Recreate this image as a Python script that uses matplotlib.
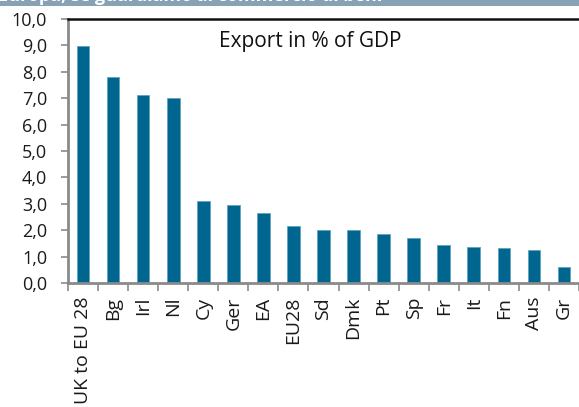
import matplotlib
matplotlib.use("Agg")
import matplotlib.pyplot as plt
from matplotlib.patches import Rectangle
from matplotlib.ticker import FixedLocator, FuncFormatter

plt.rcParams['font.family'] = ['Open Sans', 'DejaVu Sans']

countries = ["UK to EU 28", "Bg", "Irl", "Nl", "Cy", "Ger", "EA", "EU28", "Sd",
             "Dmk", "Pt", "Sp", "Fr", "It", "Fn", "Aus", "Gr"]
export_pct_gdp = [8.97, 7.79, 7.12, 7.02, 3.10, 2.94, 2.64, 2.15, 2.01,
                  2.00, 1.84, 1.69, 1.44, 1.35, 1.31, 1.25, 0.59]
y_ticks = [0, 1, 2, 3, 4, 5, 6, 7, 8, 9, 10]

W, H = 579, 407
fig = plt.figure(figsize=(W / 100, H / 100), dpi=100)

# header band at the top of the page
fig.patches.append(Rectangle((0, 1 - 6 / H), 1, 6 / H, transform=fig.transFigure,
                             facecolor="#87a1b5", edgecolor="none", zorder=0))
fig.text(-2 / W, 1 - 5 / H, "Europa, se guardiamo al commercio di beni",
         color="white", fontsize=13, fontweight="bold", ha="left", va="bottom")

left, right = 68 / W, 1.0
bottom, top = 1 - 283 / H, 1 - 19 / H
ax = fig.add_axes([left, bottom, right - left, top - bottom])

x = list(range(len(countries)))
ax.bar(x, export_pct_gdp, width=0.42, color="#00668f", edgecolor="#5fa3c2",
       linewidth=0.6, zorder=2)

span = (W - 68) / 30.5
ax.set_xlim(-0.5, -0.5 + span)
ax.set_ylim(0, 10)

ax.yaxis.set_major_locator(FixedLocator(y_ticks))
ax.yaxis.set_major_formatter(FuncFormatter(lambda v, p: f"{v:.1f}".replace(".", ",")))
ax.tick_params(axis="y", direction="out", length=5, width=1.2, color="#8a8a8a",
               pad=10, labelsize=13, labelcolor="#1a1a1a")

ax.set_xticks(x)
ax.set_xticklabels(countries, rotation=90, fontsize=14, color="#1a1a1a")
ax.set_xticks([i - 0.5 for i in range(len(countries) + 1)], minor=True)
ax.tick_params(axis="x", which="major", length=0, pad=10)
ax.tick_params(axis="x", which="minor", direction="out", length=6, width=1.2,
               color="#8a8a8a")

for s in ("left", "bottom"):
    ax.spines[s].set_color("#8a8a8a")
    ax.spines[s].set_linewidth(2)
ax.spines["top"].set_color("#111111")
ax.spines["top"].set_linewidth(1.8)
ax.spines["right"].set_visible(False)

fig.text(310 / W, 1 - 42 / H, "Export in % of GDP", fontsize=15, ha="center",
         va="center", color="#111111")

fig.savefig("out.png", dpi=100)
